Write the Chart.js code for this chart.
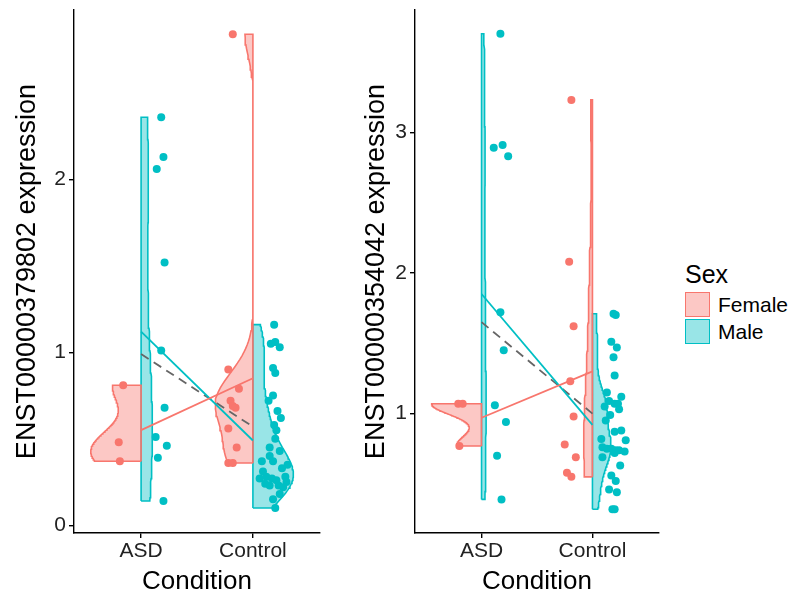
<!DOCTYPE html>
<html>
<head>
<meta charset="utf-8">
<script src="https://cdn.jsdelivr.net/npm/chart.js@4.4.0/dist/chart.umd.min.js"></script>
<style>
  body { margin: 0; background: #fff; font-family: "Liberation Sans", Arial, sans-serif; }
  #wrap { position: relative; width: 800px; height: 609px; overflow: hidden; }
  #c1 { position: absolute; left: 0; top: 0; }
  #c2 { position: absolute; left: 340px; top: 0; }
  #legend { position: absolute; left: 685px; top: 260px; color: #000; }
  #legend .lt { font-size: 25px; line-height: 28px; margin-bottom: 4px; }
  #legend .row { display: flex; align-items: center; height: 25px; margin-bottom: 2px; font-size: 21px; }
  #legend .key { box-sizing: border-box; width: 25px; height: 25px; border: 1.5px solid; margin-right: 8px; }
</style>
</head>
<body>
<div id="wrap">
  <canvas id="c1" width="340" height="609"></canvas>
  <canvas id="c2" width="330" height="609"></canvas>
  <div id="legend"></div>
</div>
<script>
// categories / groups
const categories = ['ASD', 'Control'];
const sexes = ['Female', 'Male'];
const sexColors = ['#F8766D', '#00BFC4'];

// left panel: ENST00000379802
const p1FemaleASD = [0.81, 0.48, 0.37];
const p1FemaleASDJitter = [-0.16, -0.20, -0.19];
const p1MaleASD = [2.36, 2.13, 2.06, 1.52, 1.01, 0.68, 0.51, 0.46, 0.39, 0.14];
const p1MaleASDJitter = [0.18, 0.20, 0.14, 0.21, 0.18, 0.21, 0.13, 0.23, 0.15, 0.20];
const p1FemaleCtrl = [2.84, 0.90, 0.79, 0.72, 0.69, 0.68, 0.56, 0.45, 0.36, 0.36];
const p1FemaleCtrlJitter = [-0.18, -0.22, -0.125, -0.20, -0.18, -0.155, -0.22, -0.145, -0.22, -0.18];
const p1MaleCtrl = [1.16, 1.05, 1.06, 1.03, 0.91, 0.88, 0.75, 0.72, 0.66, 0.62, 0.58, 0.55, 0.50,
  0.45, 0.43, 0.40, 0.37, 0.37, 0.35, 0.33, 0.31, 0.28, 0.27, 0.27, 0.26, 0.28, 0.25,
  0.24, 0.23, 0.23, 0.22, 0.18, 0.15, 0.10];
const p1MaleCtrlJitter = [0.19, 0.16, 0.20, 0.24, 0.18, 0.20, 0.18, 0.14, 0.22, 0.25, 0.19, 0.21, 0.20,
  0.15, 0.24, 0.15, 0.08, 0.18, 0.31, 0.26, 0.09, 0.12, 0.06, 0.17, 0.21, 0.29, 0.30,
  0.11, 0.15, 0.23, 0.27, 0.24, 0.18, 0.20];
const p1MeanFemale = [0.55, 0.85];
const p1MeanMale = [1.12, 0.49];
const p1MeanAll = [0.99, 0.57];
const p1Ticks = [0, 1, 2];

// right panel: ENST00000354042
const p2FemaleASD = [1.07, 1.07, 0.77];
const p2FemaleASDJitter = [-0.21, -0.17, -0.20];
const p2MaleASD = [3.70, 2.91, 2.89, 2.83, 1.72, 1.45, 1.06, 0.94, 0.70, 0.39];
const p2MaleASDJitter = [0.17, 0.19, 0.11, 0.24, 0.17, 0.20, 0.12, 0.22, 0.14, 0.18];
const p2FemaleCtrl = [3.23, 2.08, 1.62, 1.23, 0.98, 0.78, 0.69, 0.58, 0.55];
const p2FemaleCtrlJitter = [-0.19, -0.21, -0.17, -0.20, -0.17, -0.25, -0.15, -0.23, -0.19];
const p2MaleCtrl = [1.71, 1.70, 1.51, 1.47, 1.40, 1.27, 1.15, 1.12, 1.09, 1.07, 1.07, 1.05, 1.03,
  0.99, 0.95, 0.88, 0.87, 0.82, 0.81, 0.76, 0.75, 0.75, 0.74, 0.74, 0.73, 0.72, 0.69,
  0.63, 0.56, 0.52, 0.46, 0.44, 0.32, 0.32];
const p2MaleCtrlJitter = [0.19, 0.21, 0.17, 0.22, 0.19, 0.20, 0.13, 0.26, 0.15, 0.20, 0.23, 0.11, 0.24,
  0.16, 0.12, 0.26, 0.20, 0.08, 0.30, 0.09, 0.13, 0.17, 0.21, 0.24, 0.29, 0.20, 0.09,
  0.25, 0.17, 0.21, 0.15, 0.22, 0.18, 0.20];
const p2MeanFemale = [0.97, 1.30];
const p2MeanMale = [1.85, 0.92];
const p2MeanAll = [1.65, 1.00];
const p2Ticks = [1, 2, 3];

const FONT = '"Liberation Sans", Arial, sans-serif';

function alpha(hex, a) {
  const n = parseInt(hex.slice(1), 16);
  return `rgba(${n >> 16},${(n >> 8) & 255},${n & 255},${a})`;
}

// gaussian kde with R's bw.nrd0, trimmed to the data range
function quantile(s, p) {
  const h = (s.length - 1) * p, lo = Math.floor(h);
  const hi = Math.min(lo + 1, s.length - 1);
  return s[lo] + (h - lo) * (s[hi] - s[lo]);
}
function bwNrd0(v) {
  const n = v.length;
  const m = v.reduce((a, b) => a + b, 0) / n;
  const sd = Math.sqrt(v.reduce((a, b) => a + (b - m) * (b - m), 0) / (n - 1));
  const s = [...v].sort((a, b) => a - b);
  let lo = Math.min(sd, (quantile(s, 0.75) - quantile(s, 0.25)) / 1.34);
  if (!(lo > 0)) lo = sd || 1;
  return 0.9 * lo * Math.pow(n, -0.2);
}
function kde(v) {
  const bw = bwNrd0(v);
  const lo = Math.min(...v), hi = Math.max(...v);
  const out = [];
  for (let i = 0; i <= 120; i++) {
    const y = lo + (hi - lo) * i / 120;
    let d = 0;
    v.forEach(t => { const z = (y - t) / bw; d += Math.exp(-z * z / 2); });
    out.push({ y, d: d / (v.length * bw * Math.sqrt(2 * Math.PI)) });
  }
  return out;
}

function makePanel(canvas, groups, means, ticks, yRange, yTitle, yWidth, rightPad, titlePad) {
  const dens = groups.map(g => kde(g.values));
  const maxD = Math.max(...dens.flat().map(p => p.d));
  const datasets = [];

  groups.forEach((g, i) => {
    const c = g.cat + 1;
    const side = g.sex === 0 ? -1 : 1;
    const curve = dens[i];
    const lo = curve[0].y, hi = curve[curve.length - 1].y;
    const poly = [{ x: c, y: lo }]
      .concat(curve.map(p => ({ x: c + side * 0.45 * p.d / maxD, y: p.y })))
      .concat([{ x: c, y: hi }, { x: c, y: lo }]);
    datasets.push({
      data: poly, showLine: true, fill: 'shape', tension: 0,
      backgroundColor: alpha(sexColors[g.sex], 0.4), borderColor: sexColors[g.sex],
      borderWidth: 1.6, pointRadius: 0, order: 3
    });
    datasets.push({
      data: g.values.map((v, k) => ({ x: c + g.jitter[k], y: v })),
      showLine: false, pointRadius: 4, pointBorderWidth: 0,
      pointBackgroundColor: sexColors[g.sex], backgroundColor: sexColors[g.sex], order: 0
    });
  });

  means.forEach(m => {
    datasets.push({
      data: m.values.map((v, k) => ({ x: k + 1, y: v })),
      showLine: true, fill: false, borderColor: m.color, borderWidth: 1.8,
      borderDash: m.dash || [], pointRadius: 0, order: m.dash ? 2 : 1
    });
  });

  return new Chart(canvas, {
    type: 'scatter',
    data: { datasets },
    options: {
      responsive: false, animation: false, events: [],
      layout: { padding: { top: 10, left: 0, right: rightPad, bottom: 0 } },
      plugins: { legend: { display: false }, tooltip: { enabled: false } },
      scales: {
        x: {
          type: 'linear', min: 0.4, max: 2.6,
          afterBuildTicks: s => { s.ticks = categories.map((_, i) => ({ value: i + 1 })); },
          afterFit: s => { s.height = 76; },
          ticks: {
            callback: v => categories[v - 1], autoSkip: false, maxRotation: 0,
            font: { family: FONT, size: 21 }, color: '#222', padding: 1
          },
          grid: { drawOnChartArea: false, drawTicks: true, tickLength: 5, color: '#000', lineWidth: 1.4 },
          border: { display: true, color: '#000', width: 1.4 },
          title: {
            display: true, text: 'Condition', color: '#000',
            font: { family: FONT, size: 26 }, padding: { top: 0, bottom: 12 }
          }
        },
        y: {
          type: 'linear', min: yRange[0], max: yRange[1],
          afterBuildTicks: s => { s.ticks = ticks.map(v => ({ value: v })); },
          afterFit: s => { s.width = yWidth; s.paddingTop = 0; s.paddingBottom = 0; },
          ticks: { font: { family: FONT, size: 21 }, color: '#222', padding: 3 },
          grid: { drawOnChartArea: false, drawTicks: true, tickLength: 5, color: '#000', lineWidth: 1.4 },
          border: { display: true, color: '#000', width: 1.4 },
          title: {
            display: true, text: yTitle, color: '#000',
            font: { family: FONT, size: 27 }, padding: { top: titlePad, bottom: 0 }
          }
        }
      }
    }
  });
}

makePanel(document.getElementById('c1'), [
  { cat: 0, sex: 0, values: p1FemaleASD, jitter: p1FemaleASDJitter },
  { cat: 0, sex: 1, values: p1MaleASD, jitter: p1MaleASDJitter },
  { cat: 1, sex: 0, values: p1FemaleCtrl, jitter: p1FemaleCtrlJitter },
  { cat: 1, sex: 1, values: p1MaleCtrl, jitter: p1MaleCtrlJitter }
], [
  { values: p1MeanFemale, color: sexColors[0] },
  { values: p1MeanMale, color: sexColors[1] },
  { values: p1MeanAll, color: '#666', dash: [9, 6] }
], p1Ticks, [-0.045, 2.98], 'ENST00000379802 expression', 74, 20, 11.5);

makePanel(document.getElementById('c2'), [
  { cat: 0, sex: 0, values: p2FemaleASD, jitter: p2FemaleASDJitter },
  { cat: 0, sex: 1, values: p2MaleASD, jitter: p2MaleASDJitter },
  { cat: 1, sex: 0, values: p2FemaleCtrl, jitter: p2FemaleCtrlJitter },
  { cat: 1, sex: 1, values: p2MaleCtrl, jitter: p2MaleCtrlJitter }
], [
  { values: p2MeanFemale, color: sexColors[0] },
  { values: p2MeanMale, color: sexColors[1] },
  { values: p2MeanAll, color: '#666', dash: [9, 6] }
], p2Ticks, [0.151, 3.869], 'ENST00000354042 expression', 75, 11, 20.5);

// legend
const legend = document.getElementById('legend');
legend.innerHTML = '<div class="lt">Sex</div>' + sexes.map((s, i) =>
  `<div class="row"><span class="key" style="background:${alpha(sexColors[i], 0.4)};border-color:${sexColors[i]}"></span>${s}</div>`
).join('');
</script>
</body>
</html>
